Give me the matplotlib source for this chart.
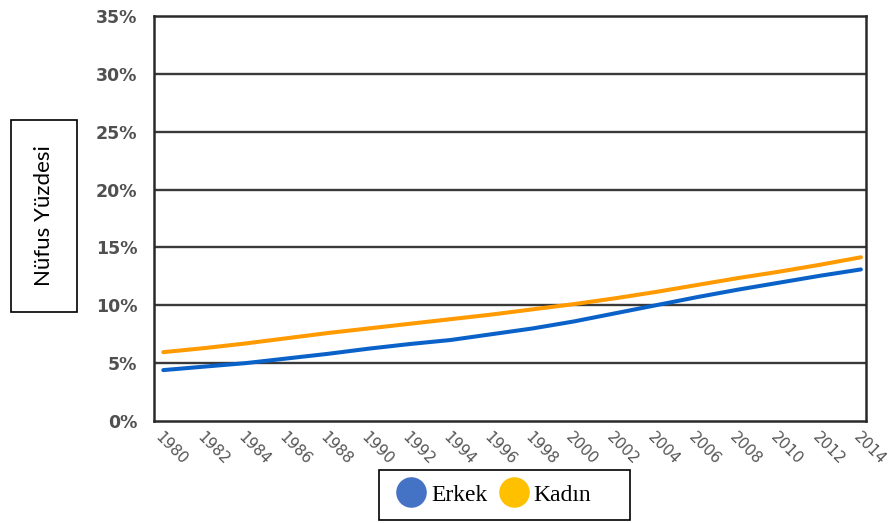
import matplotlib
matplotlib.use("Agg")
import matplotlib.pyplot as plt
from matplotlib.lines import Line2D
from matplotlib.patches import Rectangle
from matplotlib.ticker import FuncFormatter

# data
years = [1980, 1982, 1984, 1986, 1988, 1990, 1992, 1994, 1996, 1998,
         2000, 2002, 2004, 2006, 2008, 2010, 2012, 2014]
erkek = [4.4, 4.7, 5.0, 5.4, 5.8, 6.25, 6.65, 7.0, 7.5, 8.0,
         8.6, 9.3, 10.0, 10.7, 11.35, 11.95, 12.55, 13.1]
kadin = [5.95, 6.3, 6.7, 7.15, 7.6, 8.0, 8.4, 8.8, 9.2, 9.65,
         10.1, 10.6, 11.15, 11.75, 12.35, 12.9, 13.5, 14.15]
yticks = [0, 5, 10, 15, 20, 25, 30, 35]
series_names = ["Erkek", "Kadın"]

fig = plt.figure(figsize=(8.93, 5.23), dpi=100)
ax = fig.add_axes([0.1725, 0.195, 0.7973, 0.7744])

for y in yticks[1:-1]:
    ax.axhline(y, color="#3a3a3a", lw=1.7, zorder=1)

ax.plot(years, erkek, color="#0a62c9", lw=2.9, solid_capstyle="round", zorder=3)
ax.plot(years, kadin, color="#ff9a00", lw=2.9, solid_capstyle="round", zorder=3)

ax.set_xlim(1979.55, 2014.25)
ax.set_ylim(0, 35)
ax.set_yticks(yticks)
ax.yaxis.set_major_formatter(FuncFormatter(lambda v, p: "%d%%" % v))
ax.set_xticks(years)
ax.set_xticklabels([str(y) for y in years], rotation=-45, ha="left", va="top",
                   rotation_mode="anchor", fontsize=11, color="#555555")
for lab in ax.get_yticklabels():
    lab.set_fontsize(12.5)
    lab.set_fontweight("bold")
    lab.set_color("#505050")
ax.tick_params(axis="both", length=0)
ax.tick_params(axis="y", pad=12)
ax.tick_params(axis="x", pad=6)
for s in ax.spines.values():
    s.set_color("#2a2a2a")
    s.set_linewidth(1.8)

# y axis title in its own box
fig.text(44 / 893, 1 - 216 / 523, "Nüfus Yüzdesi", rotation=90, ha="center",
         va="center", fontsize=16, family="Lato", color="black")
fig.patches.append(Rectangle((11 / 893, 1 - 312 / 523), 66 / 893, 192 / 523,
                             transform=fig.transFigure, fill=False,
                             ec="black", lw=1.2))

handles = [Line2D([], [], ls="none", marker="o", ms=21, color="#4472c4"),
           Line2D([], [], ls="none", marker="o", ms=21, color="#ffc000")]
leg = fig.legend(handles, series_names, loc="center", bbox_to_anchor=(0.551, 0.054),
                 ncol=2, frameon=False,
                 prop={"family": "Liberation Serif", "size": 17},
                 handletextpad=0.05, columnspacing=0.3, handlelength=1.6)
fig.patches.append(Rectangle((379 / 893, 3 / 523), 251 / 893, 50 / 523,
                             transform=fig.transFigure, fill=False,
                             ec="black", lw=1.2))

fig.savefig("out.png", dpi=100)
